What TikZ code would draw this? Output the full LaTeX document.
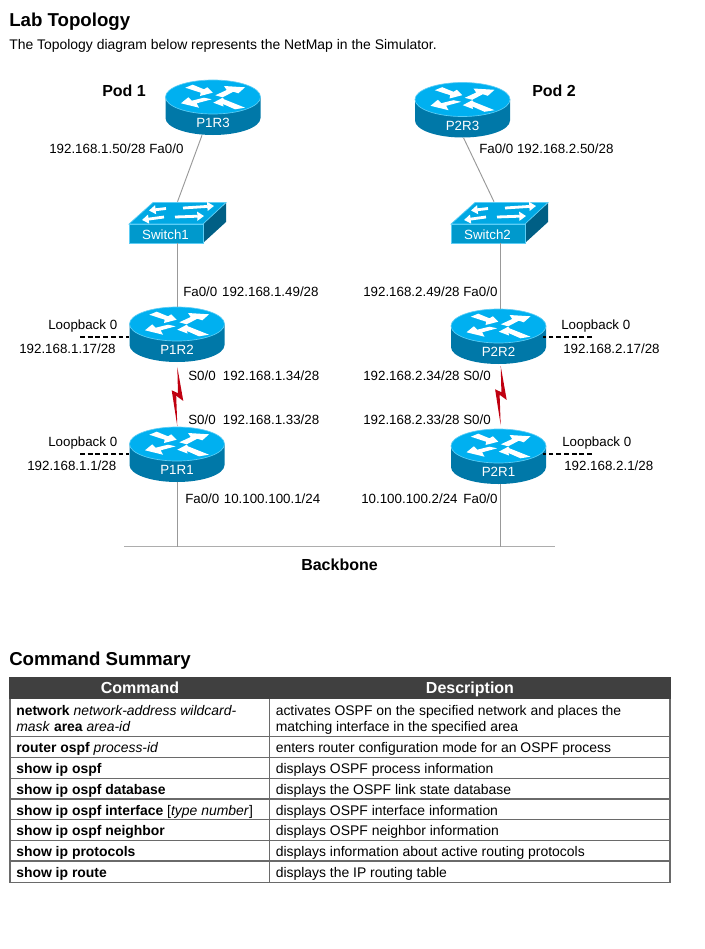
\documentclass[tikz,border=0pt]{standalone}
\usepackage{fontspec}
\setmainfont{Liberation Sans}
\usetikzlibrary{arrows.meta,calc}
\definecolor{rtop}{HTML}{00B0F0}
\definecolor{rside}{HTML}{0078A8}
\definecolor{rrim}{HTML}{5CCDF5}
\definecolor{swfront}{HTML}{0099CC}
\definecolor{swtop}{HTML}{00A8E4}
\definecolor{swside}{HTML}{005F85}
\definecolor{bolt}{HTML}{C00010}
\definecolor{link}{HTML}{999999}
\definecolor{thead}{HTML}{404040}
\definecolor{tline}{HTML}{6A6A6A}
\tikzset{
  lbl/.style={anchor=base west,inner sep=0pt,font=\fontsize{10}{12}\selectfont},
  tbl/.style={anchor=base west,inner sep=0pt,font=\fontsize{10.45}{12}\selectfont},
  boldlbl/.style={anchor=base west,inner sep=0pt,font=\fontsize{12}{14}\selectfont\bfseries},
  headlbl/.style={anchor=base west,inner sep=0pt,font=\fontsize{14}{17}\selectfont\bfseries},
  thlbl/.style={anchor=base,inner sep=0pt,text=white,font=\fontsize{12}{14}\selectfont\bfseries},
  devtext/.style={text=white,inner sep=0pt,font=\fontsize{10}{12}\selectfont},
  routerbox/.style={rectangle,inner sep=0pt,minimum width=71.25pt,minimum height=41.25pt},
  switchbox/.style={rectangle,inner sep=0pt,minimum width=73.5pt,minimum height=30.75pt},
  linkline/.style={draw=link,line width=0.7pt},
  loopline/.style={draw=black,line width=1pt,dash pattern=on 3.6pt off 2.2pt},
  rowline/.style={draw=tline,line width=1.4pt},
  swarrow/.style={draw=white,line width=2.1pt,-{Triangle[length=5pt,width=6.5pt]}},
}
\newcommand{\routericon}[2]{%
  \begin{scope}[shift={(#1,#2)}]
    \fill[rside] (-47.5,0) -- (-47.5,21) arc[start angle=180,end angle=0,x radius=47.5,y radius=17] -- (47.5,0) -- cycle;
    \draw[rrim,line width=0.5pt,fill=rtop] (0,0) ellipse[x radius=47.5,y radius=17];
    \fill[white] (-27.7,-9.3) -- (-20.3,-12.3) -- (-9,-7.7) -- (-5.7,-9.7) -- (-0.3,-4.3) -- (-13,-1) -- (-12.3,-4.3) -- cycle;
    \fill[white] (2.3,-1.7) -- (13.7,-7) -- (11,-11) -- (32,-9.7) -- (25.3,-3.7) -- (20.3,-5.3) -- (9.7,0.3) -- cycle;
    \fill[white] (-9,0.7) -- (-1.3,2.3) -- (-16.3,6.3) -- (-14,10.7) -- (-32,6.3) -- (-24.7,0.3) -- (-21.3,3.7) -- cycle;
    \fill[white] (0.3,5.7) -- (9.7,0.7) -- (11,2.3) -- (32,10.7) -- (22,12.3) -- (10,7) -- (10.5,9.5) -- cycle;
  \end{scope}}
\newcommand{\switchicon}[2]{%
  \begin{scope}[shift={(#1,#2)}]
    \fill[swside] (74,22) -- (97,1) -- (97,20) -- (74,41) -- cycle;
    \draw[rrim,line width=0.5pt,fill=swtop] (0,22) -- (24,0.5) -- (97,0.5) -- (74,22) -- cycle;
    \draw[rrim,line width=0.5pt,fill=swfront] (0,22) rectangle (74,41);
    \draw[swarrow] (37,6.5) -- (20,8.5);
    \draw[swarrow] (54,6) -- (85,4);
    \draw[swarrow] (35,15) -- (13,18);
    \draw[swarrow] (46,15) -- (75,14);
  \end{scope}}
\newcommand{\boltshape}{%
  \fill[bolt] (0.3,4.7) -- (6.3,38.7) -- (-0.8,33.5) -- (0.3,64) -- (-5.3,28) -- (1,31) -- cycle;}
\begin{document}
\begin{tikzpicture}[x=0.75pt,y=-0.75pt]
\useasboundingbox (0,0) rectangle (704,949);
\fill[white] (0,0) rectangle (704,949);

% device icons
\routericon{213}{97}
\routericon{462.5}{99.5}
\routericon{177}{324}
\routericon{498.5}{326}
\routericon{177}{444}
\routericon{498.5}{446}
\switchicon{129}{202}
\switchicon{451}{202}

% devices (text on the front of each icon)
\node[routerbox,label={[devtext,yshift=-11.6pt]center:P1R3}] (p1r3) at (213,107.5) {};
\node[routerbox,label={[devtext,yshift=-11.6pt]center:P2R3}] (p2r3) at (462.5,110) {};
\node[routerbox,label={[devtext,yshift=-11.6pt]center:P1R2}] (p1r2) at (177,334.5) {};
\node[routerbox,label={[devtext,yshift=-11.6pt]center:P2R2}] (p2r2) at (498.5,336.5) {};
\node[routerbox,label={[devtext,yshift=-11.6pt]center:P1R1}] (p1r1) at (177,454.5) {};
\node[routerbox,label={[devtext,yshift=-11.6pt]center:P2R1}] (p2r1) at (498.5,456.5) {};
\node[switchbox,label={[devtext,yshift=-9.4pt,xshift=-9pt]center:Switch1}] (sw1) at (177.5,222.5) {};
\node[switchbox,label={[devtext,yshift=-9.4pt,xshift=-9pt]center:Switch2}] (sw2) at (499.5,222.5) {};

% backbone
\coordinate (bbl) at (124,546.5);
\coordinate (bbr) at (554.5,546.5);
\draw[draw=link!80,line width=0.8pt] (bbl) -- (bbr);

% connectors
\draw[linkline] ($(p1r3.south)+(-11,0)$) -- (sw1.north);
\draw[linkline] ($(p2r3.south)+(1,0)$) -- ($(sw2.north)+(-5.5,0)$);
\draw[linkline] (sw1.south) -- (sw1.south |- p1r2.north);
\draw[linkline] ($(sw2.south)+(1,0)$) -- ($(sw2.south |- p2r2.north)+(1,0)$);
\draw[linkline] (p1r1.south) -- (p1r1.south |- bbl);
\draw[linkline] ($(p2r1.south)+(1.5,0)$) -- ($(p2r1.south |- bbl)+(1.5,0)$);

% serial links
\begin{scope}[shift={(p1r2.south)}]\boltshape\end{scope}
\begin{scope}[shift={($(p2r2.south)+(1.9,-3)$)}]\boltshape\end{scope}

% loopbacks
\coordinate (lb12) at (80,337);
\coordinate (lb11) at (80,454);
\coordinate (lb22) at (592,337);
\coordinate (lb21) at (592,454);
\draw[loopline] (lb12) -- (lb12 -| p1r2.west);
\draw[loopline] (lb11) -- (lb11 -| p1r1.west);
\draw[loopline] (lb22) -- ($(lb22 -| p2r2.east)+(-3,0)$);
\draw[loopline] (lb21) -- ($(lb21 -| p2r1.east)+(-3,0)$);

% headings
\node[headlbl] (h1) at (9,27) {Lab Topology};
\node[tbl] (intro) at (9,50) {The Topology diagram below represents the NetMap in the Simulator.};
\node[boldlbl] (pod1) at (102,97) {Pod 1};
\node[boldlbl] (pod2) at (532,97) {Pod 2};
\node[boldlbl] (bb) at (301,570) {Backbone};
\node[headlbl] (h2) at (9,665) {Command Summary};

% interface labels
\node[lbl] (a1) at (49,153) {192.168.1.50/28 Fa0/0};
\node[lbl] (a2) at (479,153) {Fa0/0 192.168.2.50/28};
\node[lbl] (a3) at (183,296) {Fa0/0\hspace{3.6pt}192.168.1.49/28};
\node[lbl] (a4) at (363,296) {192.168.2.49/28 Fa0/0};
\node[lbl] (a5) at (48,329) {Loopback 0};
\node[lbl] (a6) at (19,353) {192.168.1.17/28};
\node[lbl] (a7) at (188,380) {S0/0\hspace{5.4pt}192.168.1.34/28};
\node[lbl] (a8) at (363,380) {192.168.2.34/28 S0/0};
\node[lbl] (a9) at (188,424) {S0/0\hspace{5.4pt}192.168.1.33/28};
\node[lbl] (a10) at (363,424) {192.168.2.33/28 S0/0};
\node[lbl] (a11) at (48,446) {Loopback 0};
\node[lbl] (a12) at (27,470) {192.168.1.1/28};
\node[lbl] (a13) at (185,503) {Fa0/0\hspace{3.4pt}10.100.100.1/24};
\node[lbl] (a14) at (361,503) {10.100.100.2/24\hspace{4.4pt}Fa0/0};
\node[lbl] (a15) at (561,329) {Loopback 0};
\node[lbl] (a16) at (563,353) {192.168.2.17/28};
\node[lbl] (a17) at (562,446) {Loopback 0};
\node[lbl] (a18) at (564,470) {192.168.2.1/28};

% table
\fill[thead] (9,677) rectangle (670.5,699);
\draw[rowline] (9.7,699) -- (9.7,882.5) -- (670,882.5) -- (670,699);
\draw[rowline] (269.5,699) -- (269.5,882.5);
\foreach \ry in {736.5,757.5,778.5,799,819.5,840.5,861} \draw[rowline] (9.7,\ry) -- (670,\ry);
\node[thlbl] (th1) at (140,693) {Command};
\node[thlbl] (th2) at (470,693) {Description};

\node[tbl] (c1a) at (16,715) {\textbf{network} \textit{network-address wildcard-}};
\node[tbl] (c1b) at (16,731) {\textit{mask} \textbf{area} \textit{area-id}};
\node[tbl] (c2) at (16,752) {\textbf{router ospf} \textit{process-id}};
\node[tbl] (c3) at (16,773) {\textbf{show ip ospf}};
\node[tbl] (c4) at (16,794) {\textbf{show ip ospf database}};
\node[tbl] (c5) at (16,815) {\textbf{show ip ospf interface} [\textit{type number}]};
\node[tbl] (c6) at (16,835) {\textbf{show ip ospf neighbor}};
\node[tbl] (c7) at (16,856) {\textbf{show ip protocols}};
\node[tbl] (c8) at (16,877) {\textbf{show ip route}};
\node[tbl] (d1a) at (275.5,715) {activates OSPF on the specified network and places the};
\node[tbl] (d1b) at (275.5,731) {matching interface in the specified area};
\node[tbl] (d2) at (275.5,752) {enters router configuration mode for an OSPF process};
\node[tbl] (d3) at (275.5,773) {displays OSPF process information};
\node[tbl] (d4) at (275.5,794) {displays the OSPF link state database};
\node[tbl] (d5) at (275.5,815) {displays OSPF interface information};
\node[tbl] (d6) at (275.5,835) {displays OSPF neighbor information};
\node[tbl] (d7) at (275.5,856) {displays information about active routing protocols};
\node[tbl] (d8) at (275.5,877) {displays the IP routing table};
\end{tikzpicture}
\end{document}
